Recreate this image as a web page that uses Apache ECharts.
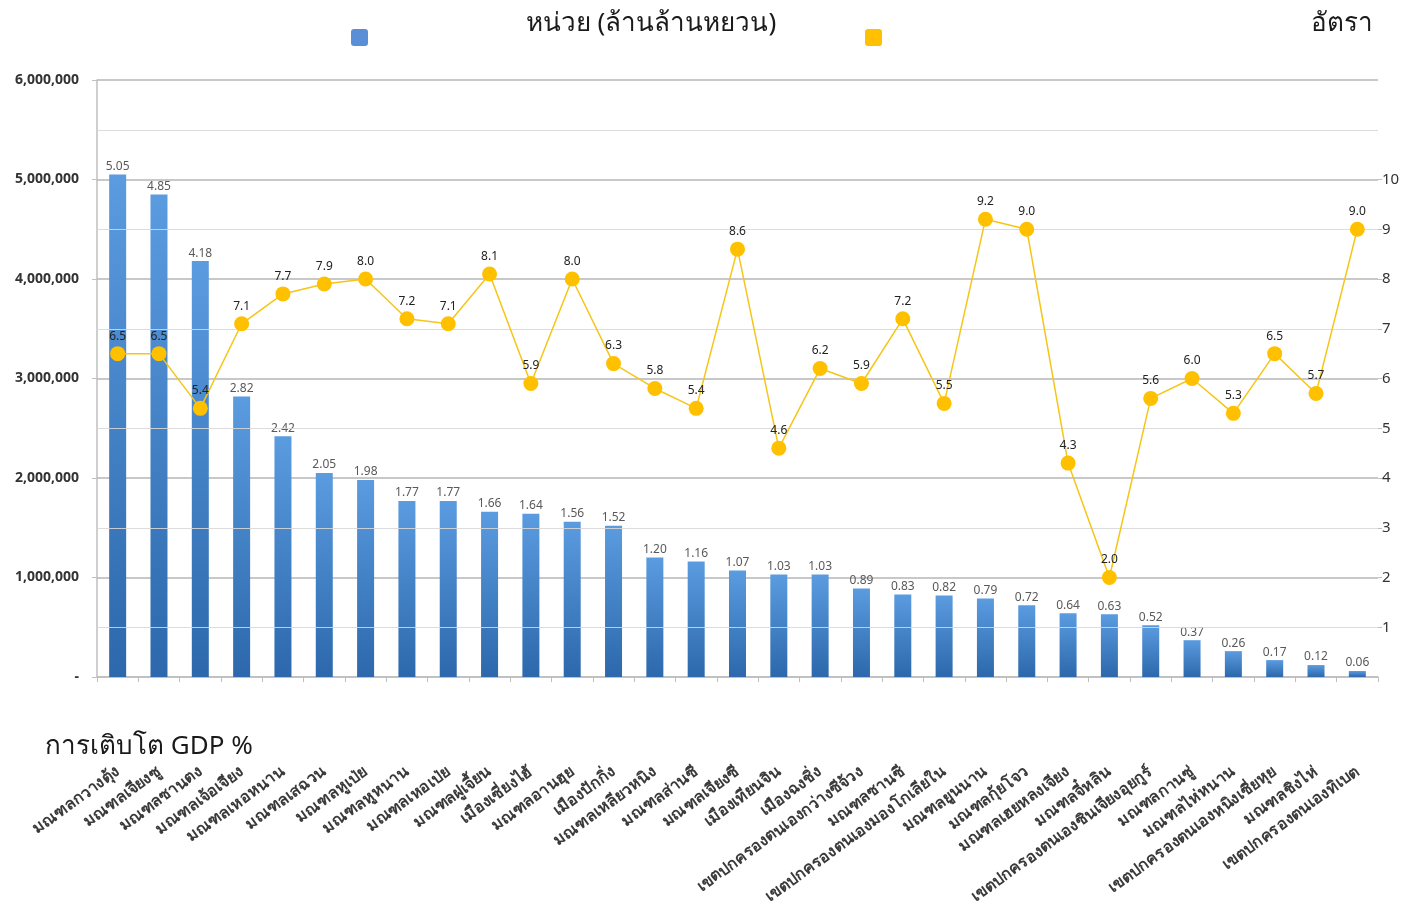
<!DOCTYPE html>
<html>
<head>
<meta charset="utf-8">
<script src="https://cdn.jsdelivr.net/npm/echarts@6/dist/echarts.min.js"></script>
<style>
html,body{margin:0;padding:0;background:#fff;}
#chart{width:1409px;height:919px;}
</style>
</head>
<body>
<div id="chart"></div>
<script>
const categories = [
  'มณฑลกวางตุ้ง','มณฑลเจียงซู','มณฑลซานตง','มณฑลเจ้อเจียง','มณฑลเหอหนาน','มณฑลเสฉวน',
  'มณฑลหูเป่ย','มณฑลหูหนาน','มณฑลเหอเป่ย','มณฑลฝูเจี้ยน','เมืองเซี่ยงไฮ้','มณฑลอานฮุย',
  'เมืองปักกิ่ง','มณฑลเหลียวหนิง','มณฑลส่านซี','มณฑลเจียงซี','เมืองเทียนจิน','เมืองฉงชิ่ง',
  'เขตปกครองตนเองกว่างซีจ้วง','มณฑลซานซี','เขตปกครองตนเองมองโกเลียใน','มณฑลยูนนาน',
  'มณฑลกุ้ยโจว','มณฑลเฮยหลงเจียง','มณฑลจี๋หลิน','เขตปกครองตนเองซินเจียงอุยกูร์',
  'มณฑลกานซู่','มณฑลไห่หนาน','เขตปกครองตนเองหนิงเซี่ยหุย','มณฑลชิงไห่','เขตปกครองตนเองทิเบต'
];
const gdpTrillion = [5.05,4.85,4.18,2.82,2.42,2.05,1.98,1.77,1.77,1.66,1.64,1.56,1.52,1.20,1.16,1.07,1.03,1.03,0.89,0.83,0.82,0.79,0.72,0.64,0.63,0.52,0.37,0.26,0.17,0.12,0.06];
const growthRate = [6.5,6.5,5.4,7.1,7.7,7.9,8.0,7.2,7.1,8.1,5.9,8.0,6.3,5.8,5.4,8.6,4.6,6.2,5.9,7.2,5.5,9.2,9.0,4.3,2.0,5.6,6.0,5.3,6.5,5.7,9.0];
const rightTicks = [1,2,3,4,5,6,7,8,9,10];
const legendTitle = 'หน่วย (ล้านล้านหยวน)';
const legendRate1 = 'อัตรา';
const legendRate2 = 'การเติบโต GDP %';

const FONT = '"Noto Sans", "DejaVu Sans", sans-serif';
const chart = echarts.init(document.getElementById('chart'));

const leftMax = 6, leftStep = 1;
const halfLines = [];
for (let v = leftStep / 2; v < leftMax; v += leftStep) halfLines.push({ yAxis: v });

chart.setOption({
  backgroundColor: '#ffffff',
  animation: false,
  textStyle: { fontFamily: FONT },
  grid: { left: 97, right: 31, top: 80, bottom: 242 },
  xAxis: {
    type: 'category',
    data: categories,
    boundaryGap: true,
    axisLine: { lineStyle: { color: '#bfbfbf', width: 1.5 } },
    axisTick: { show: true, alignWithLabel: false, length: 5, lineStyle: { color: '#bfbfbf' } },
    axisLabel: {
      interval: 0, rotate: 36, margin: 93,
      fontSize: 16, fontWeight: 'bold', color: '#3a3a3a', fontFamily: FONT
    }
  },
  yAxis: [
    {
      type: 'value', min: 0, max: leftMax, interval: leftStep,
      axisLine: { show: true, lineStyle: { color: '#bfbfbf', width: 1.5 } },
      axisTick: { show: true, length: 5, lineStyle: { color: '#bfbfbf' } },
      splitLine: { show: true, lineStyle: { color: '#c8c8c8', width: 2 } },
      axisLabel: {
        margin: 18, fontSize: 14, fontWeight: 'bold', color: '#333',
        formatter: v => v === 0 ? '-' : (v * 1000000).toLocaleString('en-US')
      }
    },
    {
      type: 'value', min: 0, max: 12, interval: 1, position: 'right',
      axisLine: { show: false },
      axisTick: { show: true, length: 4, customValues: rightTicks, lineStyle: { color: '#bfbfbf' } },
      splitLine: { show: false },
      axisLabel: { customValues: rightTicks, margin: 4, fontSize: 15, color: '#333' }
    }
  ],
  series: [
    {
      type: 'bar',
      data: gdpTrillion,
      yAxisIndex: 0,
      barWidth: 17,
      itemStyle: {
        color: new echarts.graphic.LinearGradient(0, 0, 0, 1, [
          { offset: 0, color: '#5b9be0' },
          { offset: 1, color: '#2c68ab' }
        ])
      },
      label: {
        show: true, position: 'top', distance: 2, fontSize: 12, color: '#595959',
        formatter: p => p.value.toFixed(2)
      },
      markLine: {
        silent: true, symbol: 'none', label: { show: false },
        lineStyle: { color: 'rgba(215,215,215,0.88)', width: 1, type: 'solid' },
        emphasis: { disabled: true },
        data: halfLines
      },
      z: 2
    },
    {
      type: 'line',
      data: growthRate,
      yAxisIndex: 1,
      symbol: 'circle',
      symbolSize: 15,
      lineStyle: { color: '#f5c518', width: 1.5 },
      itemStyle: { color: '#ffc000' },
      label: {
        show: true, position: 'top', distance: 4, fontSize: 12, color: '#222',
        formatter: p => p.value.toFixed(1)
      },
      z: 5
    }
  ],
  graphic: [
    { type: 'rect', left: 351, top: 29, shape: { width: 17, height: 17, r: 3 }, style: { fill: '#5a8fd8' } },
    { type: 'rect', left: 865, top: 29, shape: { width: 17, height: 17, r: 3 }, style: { fill: '#ffc000' } },
    { type: 'text', x: 651, y: 24, style: { text: legendTitle, fontSize: 26, fill: '#1a1a1a', align: 'center', verticalAlign: 'middle', fontFamily: FONT } },
    { type: 'text', x: 1373, y: 24, style: { text: legendRate1, fontSize: 26, fill: '#1a1a1a', align: 'right', verticalAlign: 'middle', fontFamily: FONT } },
    { type: 'text', x: 45, y: 747, style: { text: legendRate2, fontSize: 26, fill: '#1a1a1a', align: 'left', verticalAlign: 'middle', fontFamily: FONT } }
  ]
});
</script>
</body>
</html>
